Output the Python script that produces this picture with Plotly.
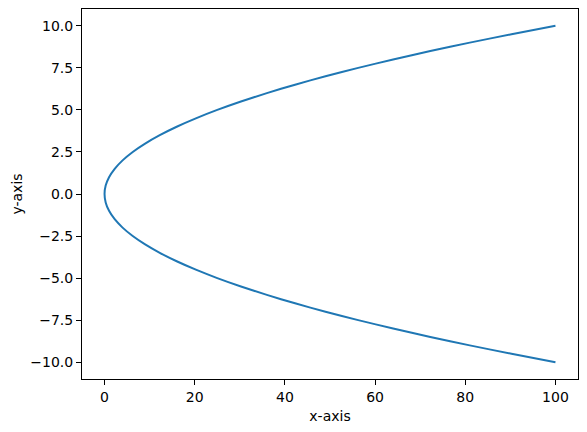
import plotly.graph_objects as go

# points (x grows with y squared)
y_vals = [-10.0, -9.5, -9.0, -8.5, -8.0, -7.5, -7.0, -6.5, -6.0, -5.5, -5.0,
          -4.5, -4.0, -3.5, -3.0, -2.5, -2.0, -1.5, -1.0, -0.5, 0.0,
          0.5, 1.0, 1.5, 2.0, 2.5, 3.0, 3.5, 4.0, 4.5, 5.0,
          5.5, 6.0, 6.5, 7.0, 7.5, 8.0, 8.5, 9.0, 9.5, 10.0]
x_vals = [100.0, 90.25, 81.0, 72.25, 64.0, 56.25, 49.0, 42.25, 36.0, 30.25, 25.0,
          20.25, 16.0, 12.25, 9.0, 6.25, 4.0, 2.25, 1.0, 0.25, 0.0,
          0.25, 1.0, 2.25, 4.0, 6.25, 9.0, 12.25, 16.0, 20.25, 25.0,
          30.25, 36.0, 42.25, 49.0, 56.25, 64.0, 72.25, 81.0, 90.25, 100.0]

x_ticks = [0, 20, 40, 60, 80, 100]
y_ticks = [-10.0, -7.5, -5.0, -2.5, 0.0, 2.5, 5.0, 7.5, 10.0]

font = dict(family="DejaVu Sans", size=14, color="black")

fig = go.Figure()
fig.add_trace(go.Scatter(
    x=x_vals, y=y_vals, mode="lines",
    line=dict(color="#1f77b4", width=2, shape="spline", smoothing=0.6),
    showlegend=False
))

axis_style = dict(
    showline=True, linecolor="black", linewidth=1, mirror=True,
    ticks="outside", ticklen=5, tickwidth=1, tickcolor="black",
    showgrid=False, zeroline=False, automargin=False,
    tickfont=font,
)

fig.update_xaxes(range=[-5, 105], tickvals=x_ticks,
                 title=dict(text="x-axis", standoff=7, font=font),
                 **axis_style)
fig.update_yaxes(range=[-11, 11], tickvals=y_ticks, tickformat=".1f",
                 title=dict(text="y-axis", standoff=4, font=font),
                 **axis_style)

# page body has an 8px margin, so the figure is sized to land on the same pixels
fig.update_layout(
    width=579, height=424,
    margin=dict(l=74, r=9, t=1, b=53),
    plot_bgcolor="white", paper_bgcolor="white",
)

fig.write_html("out.html")
